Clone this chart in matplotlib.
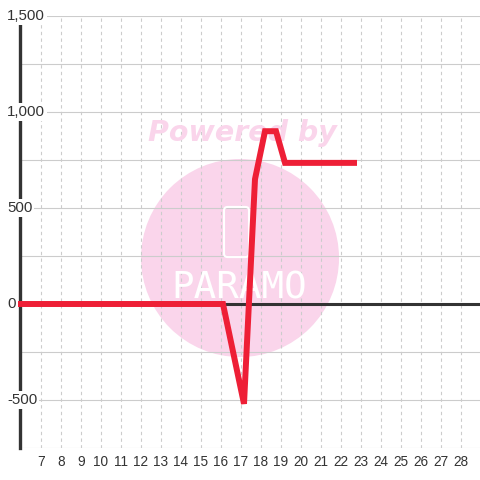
import matplotlib
matplotlib.use("Agg")
import matplotlib.pyplot as plt
from matplotlib.patches import Ellipse, FancyBboxPatch

plt.rcParams['font.family'] = ['Liberation Sans', 'DejaVu Sans']

# data
x_vals = [5.8, 16.1, 17.15, 17.7, 18.2, 18.75, 19.2, 22.8]
y_vals = [0, 0, -520, 650, 900, 900, 735, 735]
x_ticks = list(range(7, 29))
y_grid = list(range(-750, 1501, 250))
y_labels = [-500, 0, 500, 1000, 1500]

fig = plt.figure(figsize=(4.8, 4.8), dpi=100)
ax = fig.add_axes([20 / 480, 32 / 480, 460 / 480, 432 / 480])
ax.set_xlim(5.95, 28.95)
ax.set_ylim(-750, 1500)
ax.set_axisbelow(True)

for s in ['top', 'right', 'bottom']:
    ax.spines[s].set_visible(False)
ax.spines['left'].set_color('#333333')
ax.spines['left'].set_linewidth(2.4)

ax.set_xticks(x_ticks)
ax.set_xticklabels([str(v) for v in x_ticks])
ax.set_yticks(y_grid)
ax.tick_params(axis='x', length=0, pad=5, labelsize=9.8, labelcolor='#333333')
ax.tick_params(axis='y', length=0, labelleft=False)
ax.grid(axis='y', color='#cccccc', linewidth=0.8)
ax.grid(axis='x', color='#cccccc', linewidth=0.8, linestyle=(0, (3, 3)))

# y labels with white background over the axis line
for v in y_labels:
    ax.text(-13 / 460, v, f"{v:,}", transform=ax.get_yaxis_transform(),
            ha='left', va='center', fontsize=10.8, color='#333333',
            bbox=dict(fc='white', ec='none', pad=1.5), zorder=5, clip_on=False)

# watermark
ax.add_patch(Ellipse((0.4783, 0.4398), 0.4304, 0.4583, transform=ax.transAxes,
                     fc='#fad5eb', ec='none', zorder=0.3))
ax.add_patch(FancyBboxPatch((0.4435, 0.442), 0.0543, 0.116, transform=ax.transAxes,
                            boxstyle='round,pad=0,rounding_size=0.008',
                            fc='none', ec='white', lw=1.5, zorder=1))
ax.text(0.476, 0.370, 'PARAMO', transform=ax.transAxes, ha='center', va='center',
        family='DejaVu Sans Mono', fontsize=27, color='white', zorder=1)
ax.text(0.4826, 0.729, 'Powered by', transform=ax.transAxes, ha='center', va='center',
        family='DejaVu Sans', fontsize=20.5, fontweight='bold', fontstyle='italic',
        color='#fad5eb', zorder=1)

ax.axhline(0, color='#333333', linewidth=2.2, zorder=2)
ax.plot(x_vals, y_vals, color='#ee1f36', linewidth=4.3, zorder=3,
        solid_joinstyle='miter', solid_capstyle='butt', clip_on=False)

fig.savefig('out.png', dpi=100, facecolor='white')
